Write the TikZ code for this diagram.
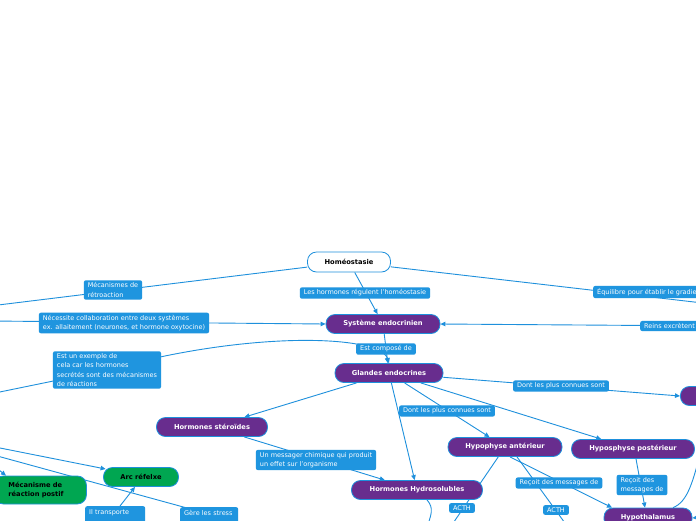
\documentclass[tikz,border=0pt]{standalone}
\usepackage{fontspec}
\setmainfont{DejaVu Sans}
\usetikzlibrary{arrows.meta,backgrounds}
\definecolor{purp}{RGB}{104,45,142}
\definecolor{lblue}{RGB}{31,149,223}
\definecolor{linec}{RGB}{30,144,220}
\definecolor{grn}{RGB}{0,166,81}
\begin{document}
\begin{tikzpicture}[x=1pt,y=-1pt,
  topic/.style={draw=linec, line width=0.8pt, fill=purp, text=white,
    font=\fontsize{6.7}{8.2}\selectfont\bfseries, rounded corners=9pt,
    minimum height=19pt, inner sep=0pt},
  rootbox/.style={topic, fill=white, text=black},
  greenbox/.style={topic, fill=grn, text=black},
  lab/.style={fill=lblue, text=white, font=\fontsize{6.5}{9.2}\selectfont,
    rounded corners=2pt, inner xsep=4pt, inner ysep=2.4pt, align=left},
  conn/.style={draw=linec, line width=0.9pt},
  arr/.style={conn, -{Triangle[length=5pt,width=4.5pt]}}
]
\useasboundingbox (0,0) rectangle (696,520);

% main nodes
\node[rootbox, minimum width=83pt, minimum height=20pt] (homeo) at (349,262) {Homéostasie};
\node[topic, minimum width=114pt] (sys) at (383,324) {Système endocrinien};
\node[topic, minimum width=108pt] (gland) at (389,373) {Glandes endocrines};
\node[topic, minimum width=111pt] (ster) at (212,427) {Hormones stéroïdes};
\node[topic, minimum width=114pt] (hant) at (505,447) {Hypophyse antérieur};
\node[topic, minimum width=123pt] (hpost) at (633,449) {Hyposphyse postérieur};
\node[topic, minimum width=131pt] (hydro) at (417,490) {Hormones Hydrosolubles};
\node[topic, minimum width=88pt, minimum height=20pt] (hypo) at (648,518) {Hypothalamus};
\node[topic, minimum width=40pt, anchor=west] (rightT) at (680,396) {};
\node[greenbox, minimum width=75pt] (arc) at (141,477) {Arc réfelxe};
\node[greenbox, minimum height=28pt, text width=64pt, align=left, inner xsep=14pt, anchor=west] (meca) at (-6,490) {Mécanisme de\\réaction postif};

% labels
\node[lab] (lmeca) at (113,290) {Mécanismes de\\rétroaction};
\node[lab] (lnec) at (124,323) {Nécessite collaboration entre deux systèmes\\ex. allaitement (neurones, et hormone oxytocine)};
\node[lab] (lest) at (107,370) {Est un exemple de\\cela car les hormones\\secrétés sont des mécanismes\\de réactions};
\node[lab] (lreg) at (365,293) {Les hormones régulent l'homéostasie};
\node[lab, anchor=west, text width=110pt] (lequ) at (593,292) {Équilibre pour établir le gradie};
\node[lab, anchor=west, text width=70pt] (lreins) at (640,326) {Reins excrètent};
\node[lab] (lcomp) at (386,349) {Est composé de};
\node[lab] (ldont1) at (561,386) {Dont les plus connues sont};
\node[lab] (ldont2) at (447,411) {Dont les plus connues sont};
\node[lab] (lmsg) at (316,460) {Un messager chimique qui produit\\un effet sur l'organisme};
\node[lab] (lrecu1) at (559,483) {Reçoit des messages de};
\node[lab] (lrecu2) at (642,485) {Reçoit des\\messages de};
\node[lab] (lacth1) at (462,508) {ACTH};
\node[lab] (lacth2) at (556,510) {ACTH};
\node[lab, anchor=north west, text width=52pt, minimum height=20pt, text depth=8pt] (ltrans) at (85,506) {Il transporte};
\node[lab, anchor=north west, text width=50pt, minimum height=20pt, text depth=8pt] (lstress) at (180,507) {Gère les stress};

% free ends
\coordinate (cL1) at (-10,306);
\coordinate (cL2) at (-10,321);
\coordinate (cL3) at (-10,394);
\coordinate (cL4) at (-10,446);
\coordinate (cL5) at (-10,454);
\coordinate (cL6) at (-6,466);
\coordinate (cR1) at (720,305);
\coordinate (cR2) at (720,326);
\coordinate (cR3) at (700,455);
\coordinate (cR4) at (712,516);
\coordinate (cB1) at (445,535);
\coordinate (cB2) at (570,530);
\coordinate (cB3) at (425,532);
\coordinate (cB4) at (260,528);

\begin{scope}[on background layer]
\fill[white] (0,0) rectangle (696,520);
\draw[conn] (homeo) -- (cL1);
\draw[arr] (homeo) -- (sys);
\draw[conn] (homeo) -- (cR1);
\draw[arr] (cL2) -- (sys.west);
\draw[arr] (cR2) -- (sys.east);
\draw[arr] (sys) -- (gland);
\draw[arr] (cL3) -- (lest.center) .. controls (250,330) and (380,335) .. (gland.north);
\draw[arr] (gland) -- (rightT.west);
\draw[arr] (gland) -- (ster);
\draw[arr] (gland) -- (hydro);
\draw[arr] (gland) -- (hant);
\draw[arr] (gland) -- (hpost);
\draw[arr] (ster) -- (hydro);
\draw[conn] (hant) -- (cB1);
\draw[arr] ([xshift=5pt]hant.south) -- ([xshift=-36pt]hypo.north);
\draw[conn] ([xshift=12pt]hant.south) -- (cB2);
\draw[arr] ([xshift=3pt]hpost.south) -- ([xshift=-3pt]hypo.north);
\draw[conn] ([xshift=25pt]hypo.north) .. controls (688,502) and (693,480) .. (cR3);
\draw[arr] (cR4) -- (hypo.east);
\draw[conn] ([xshift=10pt]hydro.south) .. controls (434,508) and (432,514) .. (cB3);
\draw[arr] (cL4) -- ([xshift=2.5pt,yshift=8pt]arc.west);
\draw[conn] (cL5) -- (cB4);
\draw[arr] (cL6) -- ([xshift=12pt]meca.north west);
\draw[arr] ([xshift=35pt]ltrans.north west) -- ([xshift=-6pt]arc.south);
\end{scope}
\end{tikzpicture}
\end{document}
